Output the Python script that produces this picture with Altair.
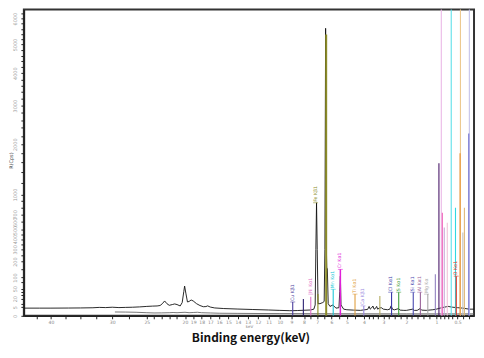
import altair as alt
import pandas as pd

# ---------------- data ----------------
# main spectrum (black): binding energy (keV) and intensity
spec_e = [44.8, 42, 40, 37, 35, 33, 32, 31, 30, 29, 28, 27, 26, 25, 24.2, 23.6, 23.2, 22.9,
          22.6, 22.3, 22.0, 21.6, 21.3, 21.0, 20.6, 20.35, 20.15, 20.05, 19.9, 19.7, 19.5,
          19.25, 19.0, 18.6, 18.2, 17.8, 17.5, 17.3, 17.0, 16.5, 15.5, 14.0, 12.5, 11.0, 10.0,
          9.2, 8.9, 8.5, 8.0, 7.5, 7.25, 7.15, 7.10, 7.05, 7.0, 6.94, 6.8, 6.6, 6.5, 6.45,
          6.40, 6.36, 6.32, 6.28, 6.22, 6.1, 5.9, 5.7, 5.5, 5.45, 5.41, 5.37, 5.2, 5.0, 4.6,
          4.2, 4.0, 3.8, 3.72, 3.66, 3.6, 3.52, 3.46, 3.4, 3.33, 3.28, 3.2, 3.1, 3.0, 2.8,
          2.7, 2.64, 2.58, 2.5, 2.32, 2.25, 2.1, 2.0, 1.76, 1.7, 1.6, 1.5, 1.45, 1.3, 1.1,
          1.0, 0.9, 0.8, 0.7, 0.6, 0.5, 0.4, 0.3, 0.23]
spec_c = [4.0, 4.0, 4.0, 4.1, 4.2, 4.4, 4.8, 4.6, 5.0, 4.6, 4.8, 5.0, 5.4, 6.0, 6.4, 6.6, 7.2, 10,
          15, 10, 7.5, 8.6, 9.6, 8.6, 6.6, 12, 40, 60, 35, 13, 14,
          17, 15, 10, 7.2, 5.6, 5.8, 6.7, 5.2, 4.2, 3.6, 3.1, 2.7, 2.3, 2.0,
          1.8, 1.8, 1.9, 2.1, 2.3, 3.0, 8, 300, 868, 300, 10, 10, 12, 14, 300,
          5618, 400, 160, 150, 10, 6, 8, 4, 4.5, 40, 107, 8, 3, 2.5, 2.2,
          2.0, 2.4, 2.8, 6, 3, 4, 6.5, 3, 3.5, 6, 3, 4, 4.5, 3, 2.5,
          3, 6.7, 3, 2.4, 3.5, 2.2, 2.0, 2.0, 3, 2.0, 2.0, 3.5, 2.2, 2.0, 2.5,
          3, 4, 5, 6, 5, 4.5, 4, 3, 3]

# second spectrum (grey, lower)
base_e = [29.6, 28, 26.5, 25, 24, 23, 22, 21.5, 21, 20.5, 20, 19.5, 19, 18.5, 18, 17, 16,
          14, 12, 10, 8, 6, 4, 2, 1, 0.5, 0.23]
base_c = [1.0, 0.95, 0.85, 0.65, 0.55, 0.58, 0.65, 0.75, 0.65, 0.75, 0.85, 0.65, 0.75, 0.85,
          0.65, 0.55, 0.45, 0.4, 0.36, 0.34, 0.32, 0.3, 0.28, 0.27, 0.27, 0.27, 0.27]

# element marker lines: id, energy (keV), top intensity
line_id = ["Ni Ll", "Mn Ll2", "Ti Ll", "Ca Ll",
           "Cu Kβ", "Cu Kα", "Ni Kα", "Fe Kβ", "Fe Kα", "Mn Kα", "Cr Kα", "Ti Kα", "Ca Kβ",
           "K Kα", "Cl Kα", "S Kα", "Si Kα", "Al Kα", "Mg Kα", "Na Kα", "Cu Lα", "Ni Lα",
           "Co Lα", "Fe Lα", "Mn Lα", "O Kα", "Ti Lα", "N Kα", "Ti Lβ", "Ca Lα"]
line_e = [0.868, 0.631, 0.445, 0.296,
          8.905, 8.05, 7.48, 6.95, 6.36, 5.88, 5.41, 4.51, 4.01,
          3.17, 2.62, 2.31, 1.74, 1.49, 1.25, 1.028, 0.93, 0.842,
          0.793, 0.721, 0.541, 0.525, 0.452, 0.402, 0.375, 0.305]
line_top = [9000, 9000, 9000, 9000,
            13, 19, 25, 32, 5380, 48, 147, 32, 6.7,
            26.7, 38, 38, 38, 38, 32, 118, 1584, 722,
            529, 590, 794, 107, 1797, 471, 794, 2262]

# peak labels
label_text = ["Cu Kβ1", "Ni Kα1", "Fe Kβ1", "Mn Kα1", "Cr Kα1", "Ti Kα1", "Ca Kβ1",
              "Cl Kα1", "S Kα1", "Si Kα1", "Al Kα1", "Mg Kα", "O Kα1"]
label_id = ["Cu Kβ", "Ni Kα", "Fe Kβ", "Mn Kα", "Cr Kα", "Ti Kα", "Ca Kβ",
            "Cl Kα", "S Kα", "Si Kα", "Al Kα", "Mg Kα", "O Kα"]
label_e = [8.905, 7.48, 7.12, 5.88, 5.41, 4.51, 4.05, 2.66, 2.31, 1.76, 1.51, 1.29, 0.527]
label_c = [13, 32, 868, 48, 147, 32, 6.7, 38, 38, 38, 38, 32, 107]

# axis ticks
x_major = [40, 30, 25, 20, 19, 18, 17, 16, 15, 14, 13, 12, 11, 10, 9, 8, 7, 6, 5, 4, 3, 2, 1, 0.5]
x_minor = [42.5, 37.5, 35, 32.5, 27.5, 24, 23, 22, 21, 7.5, 6.5, 5.5, 4.5, 3.75, 3.5, 3.25,
           2.75, 2.5, 2.25, 1.8, 1.6, 1.4, 1.2, 0.9, 0.8, 0.7, 0.6, 0.4, 0.3]
y_major = [0, 5, 20, 50, 100, 200, 300, 400, 500, 600, 700, 1000, 2000, 3000, 4000, 5000, 6000]
y_minor = [10, 30, 40, 75, 150, 250, 350, 450, 800, 900, 1200, 1400, 1600, 1800, 2200, 2400,
           2600, 2800, 3200, 3400, 3600, 3800, 4200, 4400, 4600, 4800, 5200, 5400, 5600,
           5800, 6200]

# ---------------- styles ----------------
PALETTE = {
    "Ni Ll": "#eab8e6", "Mn Ll2": "#5ee0ea", "Ti Ll": "#ecc98f", "Ca Ll": "#c4c2ea",
    "Cu Kβ": "#4a3c9c", "Cu Kα": "#2a2070", "Ni Kα": "#e070c8", "Fe Kβ": "#8a8a1e",
    "Fe Kα": "#8c8c28", "Mn Kα": "#20c8d8", "Cr Kα": "#e020d8", "Ti Kα": "#e0a040",
    "Ca Kβ": "#9888e0", "K Kα": "#b4ac60", "Cl Kα": "#3838a8", "S Kα": "#3c9c3c",
    "Si Kα": "#4848b0", "Al Kα": "#986098", "Mg Kα": "#a8a8a8", "Na Kα": "#9080c0",
    "Cu Lα": "#481868", "Ni Lα": "#f060b8", "Co Lα": "#c8a8d8", "Fe Lα": "#f0c0d8",
    "Mn Lα": "#30d8e0", "O Kα": "#e03020", "Ti Lα": "#e89030", "N Kα": "#c0c0c0",
    "Ti Lβ": "#e0b878", "Ca Lα": "#7070d0",
}
WIDTH = {"Fe Kα": 2.0, "Cr Kα": 1.5}

XDOM = [0.23, 44.87]
YDOM = [0, 6380]

xs = alt.Scale(type="sqrt", domain=XDOM, reverse=True, nice=False, zero=False)
ys = alt.Scale(type="sqrt", domain=YDOM, nice=False, zero=False)
cs = alt.Scale(domain=list(PALETTE.keys()), range=list(PALETTE.values()))


def js(arr):
    return "[" + ",".join(str(v) for v in arr) + "]"


xm = js(x_major)
ym = js(y_major)

x_axis = alt.Axis(
    values=x_major + x_minor,
    labelExpr=f"indexof({xm}, datum.value) >= 0 ? format(datum.value, '~g') : ''",
    tickSize=3, tickColor="#222", tickWidth=1, domainColor="#222", domainWidth=1.6,
    labelFontSize=4.6, labelColor="#888", labelFont="DejaVu Sans", labelPadding=1,
    labelOverlap=False, labelFlush=False, grid=False,
    title="keV", titleFontSize=4, titleColor="#888", titleFont="DejaVu Sans",
    titleFontWeight="normal", titlePadding=0,
)
y_axis = alt.Axis(
    values=y_major + y_minor,
    labelExpr=f"indexof({ym}, datum.value) >= 0 ? format(datum.value, '~g') : ''",
    tickSize=3, tickColor="#222", tickWidth=1, domainColor="#222", domainWidth=1.6,
    labelAngle=270, labelAlign="center", labelBaseline="bottom",
    labelFontSize=5, labelColor="#999", labelFont="DejaVu Sans", labelPadding=3,
    labelOverlap=False, labelFlush=False, grid=False,
    title="R(Cps)", titleAngle=270, titleFontSize=5, titleColor="#444",
    titleFont="DejaVu Sans", titleFontWeight="normal",
    titleX=-13, titleY=152, titleAlign="center", titleBaseline="middle",
)

X = alt.X("E:Q", scale=xs, axis=x_axis)

df_spec = pd.DataFrame({"E": spec_e, "C": spec_c})
df_base = pd.DataFrame({"E": base_e, "C": base_c})
df_lines = pd.DataFrame({"id": line_id, "E": line_e, "top": line_top})
df_lines["y0"] = 0
df_lines["w"] = [WIDTH.get(i, 1.1) for i in line_id]
df_lab = pd.DataFrame({"text": label_text, "id": label_id, "E": label_e, "C": label_c})

grey = alt.Chart(df_base).mark_line(color="#555", strokeWidth=0.8, clip=True).encode(
    x=X, y=alt.Y("C:Q", scale=ys, axis=y_axis),
)
black = alt.Chart(df_spec).mark_line(color="#111", strokeWidth=0.9, clip=True).encode(
    x=X, y=alt.Y("C:Q", scale=ys, axis=y_axis),
)
rules = alt.Chart(df_lines).mark_rule(clip=True).encode(
    x=X,
    y=alt.Y("y0:Q", scale=ys, axis=y_axis),
    y2="top:Q",
    color=alt.Color("id:N", scale=cs, legend=None),
    strokeWidth=alt.StrokeWidth("w:Q", scale=None),
)
bars = alt.Chart(df_lab).mark_tick(orient="horizontal", size=5, thickness=0.8).encode(
    x=X,
    y=alt.Y("C:Q", scale=ys, axis=y_axis),
    color=alt.Color("id:N", scale=cs, legend=None),
)
labels = alt.Chart(df_lab).mark_text(
    angle=270, align="left", baseline="middle", fontSize=4.7, dx=1, font="DejaVu Sans"
).encode(
    x=X,
    y=alt.Y("C:Q", scale=ys, axis=y_axis),
    text="text:N",
    color=alt.Color("id:N", scale=cs, legend=None),
)

chart = alt.layer(grey, black, rules, bars, labels).properties(
    width=454, height=309,
    autosize="none",
    padding={"left": 16, "top": 0, "right": 2, "bottom": 28},
    background="white",
    title=alt.TitleParams(
        "Binding energy(keV)", orient="bottom", anchor="middle", frame="group",
        font="Noto Sans CJK KR", fontSize=12, fontWeight="bold", color="#111",
        offset=5, dx=2,
    ),
).configure_view(stroke="#333", strokeWidth=2).configure_axis(labelOverlap=False)

chart.save("out.html", embed_options={"renderer": "svg", "actions": False})
